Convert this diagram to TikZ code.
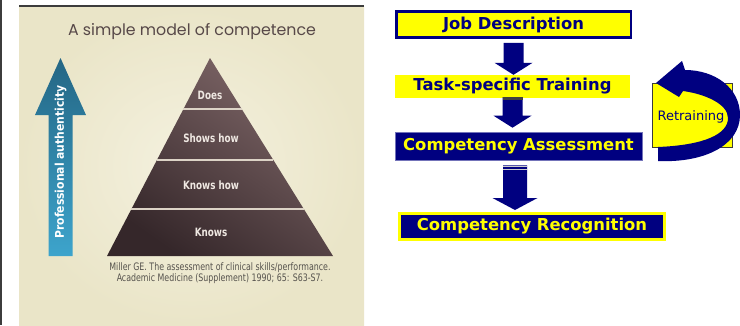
\documentclass[tikz,border=0pt]{standalone}
\usepackage{fontspec}
\setmainfont{DejaVu Sans}
\newfontfamily\condfont{DejaVu Sans Condensed}
\newfontfamily\narrowfont[FakeStretch=0.85]{DejaVu Sans Condensed}
\newfontfamily\titlefont{Poppins}
\usepackage{tikz}
\usetikzlibrary{calc, positioning, arrows.meta}

\definecolor{navyblk}{HTML}{000080}
\definecolor{boxyellow}{HTML}{FFFF00}
\definecolor{framegray}{HTML}{3C3C3C}
\definecolor{paperlight}{HTML}{F4F1DF}
\definecolor{paperdark}{HTML}{EAE5C8}
\definecolor{titlebrown}{HTML}{574848}
\definecolor{pyrdark}{HTML}{35272A}
\definecolor{pyrlight}{HTML}{806869}
\definecolor{layertext}{HTML}{EFE8E2}
\definecolor{dividerline}{HTML}{DCD3C6}
\definecolor{arrowtop}{HTML}{246684}
\definecolor{arrowbot}{HTML}{3DA4CC}
\definecolor{citegray}{HTML}{55524D}

% block arrow pointing down: start, end, half shaft width, half head width
\newcommand{\flowarrow}[4]{%
  \fill[navyblk] let \p1=#1, \p2=#2 in
    (\x1-#3,\y1) -- (\x1+#3,\y1) -- (\x1+#3,\y2+12pt) -- (\x1+#4,\y2+12pt)
    -- (\x1,\y2) -- (\x1-#4,\y2+12pt) -- (\x1-#3,\y2+12pt) -- cycle;}

\tikzset{
  layer/.style={font=\narrowfont\bfseries\fontsize{11.5}{13}\selectfont, text=layertext, inner sep=0pt},
  divider/.style={dividerline, line width=1.2pt},
  stagebox/.style={minimum height=26pt, inner sep=0pt, font=\bfseries\fontsize{16.4}{18}\selectfont},
}

\begin{document}
\begin{tikzpicture}[x=1pt, y=-1pt]
\useasboundingbox (0,0) rectangle (740,325);
\fill[white] (0,0) rectangle (740,325);

% === Left panel: Miller's pyramid ===
\fill[framegray] (0,0) rectangle (2,325);
\shade[inner color=paperlight, outer color=paperdark] (19,6) rectangle (364,325);
\draw[framegray, line width=1.5pt] (19,6) -- (364,6);

\node[font=\titlefont\fontsize{15.8}{18}\selectfont, text=titlebrown] (title) at (192,32) {A simple model of competence};

% upward arrow
\shade[top color=arrowtop, bottom color=arrowbot]
  (48.5,256) -- (48.5,115) -- (35,115) -- (60.5,58) -- (86,115) -- (72.5,115) -- (72.5,256) -- cycle;
\node[rotate=90, font=\condfont\bfseries\fontsize{12}{14}\selectfont, text=white] (authenticity) at (60.5,162) {Professional authenticity};

% pyramid with its four levels
\coordinate (apex) at (210,58);
\coordinate (baseL) at (107,256);
\coordinate (baseR) at (333,256);
\shade[top color=pyrlight, bottom color=pyrdark, shading angle=-35] (apex) -- (baseR) -- (baseL) -- cycle;
\foreach \t in {0.258, 0.515, 0.763}
  \draw[divider] ($(apex)!\t!(baseL)$) -- ($(apex)!\t!(baseR)$);

\node[layer] (does) at (210,95) {Does};
\node[layer] (showshow) at (211,138) {Shows how};
\node[layer] (knowshow) at (211,185) {Knows how};
\node[layer] (knows) at (211,232) {Knows};

\node[font=\narrowfont\fontsize{10.3}{10.5}\selectfont, text=citegray, align=center] (cite) at (220,273)
  {Miller GE. The assessment of clinical skills/performance.\\Academic Medicine (Supplement) 1990; 65: S63-S7.};

% === Right panel: competency flow ===
\node[stagebox, draw=navyblk, line width=2.5pt, fill=boxyellow, text=navyblk, minimum width=234.5pt] (job) at (513.5,24.5) {Job Description};
\node[stagebox, fill=boxyellow, text=navyblk, minimum width=235pt, minimum height=23pt] (task) at (512.5,86.5) {Task-specific Training};
\node[stagebox, fill=navyblk, draw=navyblk!55!white, line width=0.6pt, text=boxyellow, minimum width=247pt, minimum height=28pt] (assess) at (518.5,146) {Competency Assessment};
\node[stagebox, fill=navyblk, draw=boxyellow, line width=3pt, text=boxyellow, minimum width=265pt] (recog) at (532,226.5) {Competency Recognition};

\flowarrow{([yshift=-4pt]job.south)}{(task.north)}{10pt}{19pt}
\flowarrow{([yshift=1pt]task.south)}{([yshift=4pt]assess.north)}{10pt}{19pt}
\fill[black!75] (503,97) rectangle (523,100);

\coordinate (a3) at ($(assess.south)+(-3.5,5)$);
\coordinate (a3end) at (a3 |- recog.north);
\flowarrow{(a3)}{([yshift=2pt]a3end)}{12pt}{22.5pt}
\draw[white!80!black, line width=0.8pt] (503,166.5) -- (527,166.5);
\draw[white!80!black, line width=0.8pt] (503,169) -- (527,169);

% retraining loop
\node[draw=framegray, line width=0.8pt, fill=boxyellow, minimum width=80pt, minimum height=64pt, inner sep=0pt] (retrain) at (692,115) {};
\fill[navyblk] (658,161) .. controls (705,163) and (740,145) .. (740,115)
  .. controls (740,88) and (715,70) .. (685,70)
  -- (682,61) -- (656,83) -- (679,97) -- (683,91)
  .. controls (705,94) and (728,104) .. (728,118)
  .. controls (728,134) and (705,145) .. (658,147) -- cycle;
\node[font=\fontsize{13}{15}\selectfont, text=navyblk, inner sep=0pt] (retraintext) at (691,117) {Retraining};
\end{tikzpicture}
\end{document}
